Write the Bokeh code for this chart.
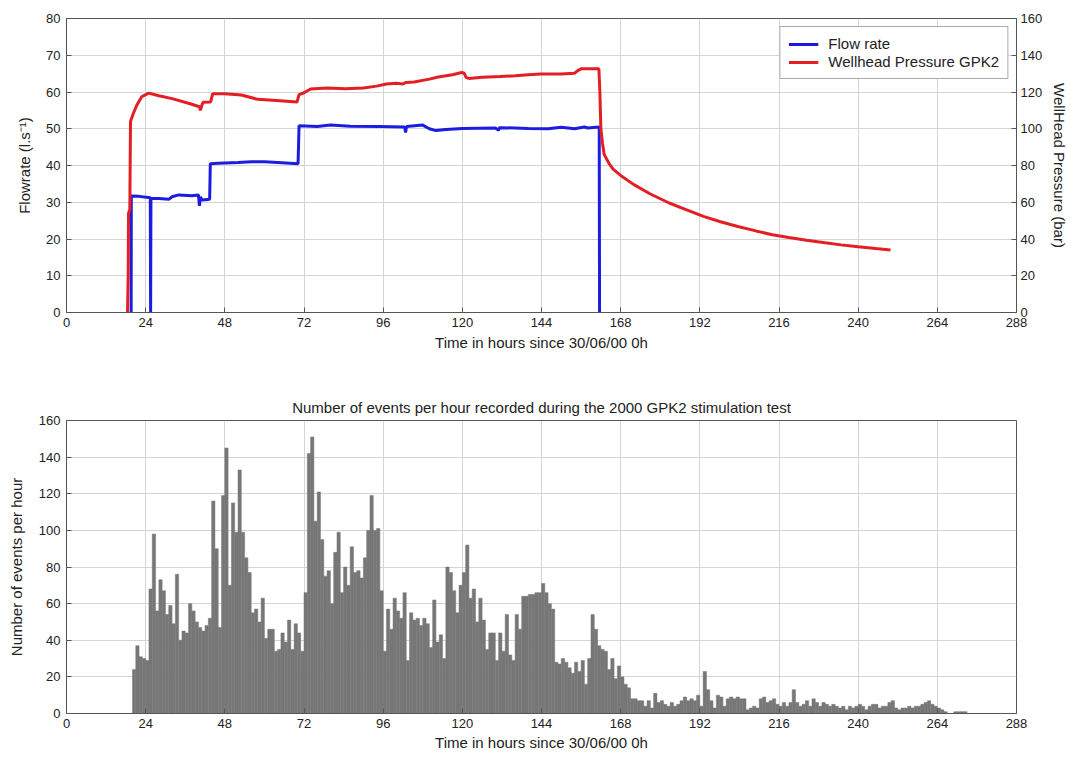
from bokeh.plotting import figure
from bokeh.models import Range1d, LinearAxis, FixedTicker
from bokeh.layouts import column
from bokeh.embed import file_html
from bokeh.resources import INLINE

# ---------------- data ----------------
flow_hours = [19.6, 19.65, 22, 25.4, 25.5, 25.6, 28, 31, 32, 34, 38, 40, 40.3, 40.6, 41,
              43.4, 43.6, 46, 52, 56, 60, 64, 70.2, 70.5, 76, 80, 86, 95, 102.5, 102.8,
              103.1, 108, 110, 112, 115, 120, 130, 131, 131.3, 140, 146, 150, 154, 157,
              158, 161.5, 161.6]
flow_rate = [0, 31.7, 31.6, 31.2, 0, 31.0, 31.0, 30.8, 31.5, 32.0, 31.8, 32.0, 29.0, 31.5, 30.6,
             30.8, 40.5, 40.6, 40.8, 41.0, 41.0, 40.8, 40.5, 50.8, 50.6, 51.0, 50.7, 50.6, 50.5, 49.0,
             50.6, 51.0, 50.0, 49.5, 49.8, 50.1, 50.2, 49.6, 50.3, 50.1, 50.0, 50.4, 50.0, 50.5,
             50.2, 50.5, 0]

press_hours = [18.5, 18.7, 18.8, 19.2, 19.4, 20.2, 21.3, 22.8, 24.9, 28, 32, 37.5, 40.3, 40.6,
               41, 41.4, 43.7, 44.3, 48, 53, 58, 63.6, 69.9, 70.5, 72, 74, 79, 84.5, 90, 94, 97,
               100, 102, 103, 105.4, 110, 112.7, 117, 119.8, 120.5, 121.2, 122, 126, 131.5, 136,
               140, 143.8, 150, 154, 155, 156, 161.4, 161.7, 162, 162.5, 163, 164.5, 165.7, 168,
               172, 177, 182.7, 188, 193.1, 198, 203.5, 209, 214, 219, 224.3, 230, 234.8, 240,
               245.3, 249.8]
pressure = [0, 20, 54, 56, 104, 108, 112.8, 117.4, 119.4, 118, 116.4, 113.6, 112, 110,
            112.6, 114.4, 114.6, 119, 119, 118.4, 116, 115.4, 114.6, 118.6, 119.6, 121.6, 122.2,
            121.8, 122.2, 123.2, 124.4, 124.8, 124.4, 125.2, 125.4, 127, 128.2, 129.4, 130.6,
            130.4, 127.8, 127.4, 128, 128.4, 128.8, 129.4, 129.8, 129.8, 130.2, 131.6, 132.6,
            132.6, 120, 100, 92, 86, 81, 78, 74.6, 69.6, 64.5, 59.6, 55.8, 52.3, 49.5, 46.8,
            44.4, 42.3, 40.8, 39.3, 37.9, 36.8, 35.8, 34.8, 34.0]

events_start_hour = 20
events_per_hour = [
    24, 37, 31, 30, 29, 68, 98, 56, 73, 67,          # 20-29
    54, 59, 49, 76, 40, 45, 44, 60, 56, 50,          # 30-39
    47, 45, 48, 52, 116, 90, 47, 119, 145, 70,       # 40-49
    115, 99, 133, 99, 85, 77, 55, 57, 50, 63,        # 50-59
    41, 46, 46, 34, 35, 44, 39, 51, 35, 49,          # 60-69
    44, 34, 66, 142, 151, 105, 121, 95, 75, 78,      # 70-79
    60, 88, 99, 66, 80, 70, 91, 77, 78, 74,          # 80-89
    85, 100, 119, 100, 101, 67, 34, 57, 46, 63,      # 90-99
    56, 52, 66, 29, 55, 51, 52, 48, 52, 49,          # 100-109
    36, 62, 39, 43, 30, 80, 77, 67, 55, 70,          # 110-119
    77, 92, 63, 68, 50, 63, 51, 35, 44, 44,          # 120-129
    29, 44, 34, 54, 32, 29, 54, 46, 64, 64,          # 130-139
    65, 65, 66, 66, 71, 66, 60, 57, 28, 27,          # 140-149
    30, 28, 25, 22, 28, 23, 29, 16, 30, 54,          # 150-159
    46, 37, 35, 34, 24, 30, 19, 26, 20, 16,          # 160-169
    14, 8, 8, 7, 7, 4, 7, 3, 11, 6,                  # 170-179
    7, 5, 4, 6, 4, 5, 7, 9, 7, 8,                    # 180-189
    7, 10, 4, 23, 13, 7, 3, 10, 9, 4,                # 190-199
    8, 9, 8, 9, 8, 8, 2, 3, 4, 3,                    # 200-209
    8, 9, 6, 7, 8, 5, 4, 6, 4, 6,                    # 210-219
    13, 6, 4, 5, 7, 4, 8, 6, 4, 6,                   # 220-229
    5, 4, 5, 4, 3, 4, 2, 4, 3, 4,                    # 230-239
    5, 4, 2, 4, 5, 5, 3, 4, 4, 6,                    # 240-249
    7, 3, 2, 3, 3, 4, 3, 4, 4, 5,                    # 250-259
    6, 7, 5, 4, 3, 2, 1, 0, 0, 1,                    # 260-269
    1, 1, 1,                                         # 270-272
]
event_hours = [events_start_hour + i for i in range(len(events_per_hour))]

x_ticks = list(range(0, 289, 24))
flow_ticks = list(range(0, 81, 10))
press_ticks = list(range(0, 161, 20))
event_ticks = list(range(0, 161, 20))

# ---------------- style ----------------
FONT = "Liberation Sans"
TXT = "#222222"
GRID = "#d4d4d4"
FRAME = "#555555"


def style_axis(ax, ticks, standoff=5, label_standoff=6, label_size="15px"):
    ax.ticker = FixedTicker(ticks=ticks)
    ax.major_label_text_font = FONT
    ax.major_label_text_font_size = "13px"
    ax.major_label_text_color = TXT
    ax.axis_label_text_font = FONT
    ax.axis_label_text_font_size = label_size
    ax.axis_label_text_font_style = "normal"
    ax.axis_label_text_color = TXT
    ax.major_tick_in = 5
    ax.major_tick_out = 0
    ax.minor_tick_line_color = None
    ax.axis_line_color = FRAME
    ax.major_tick_line_color = FRAME
    ax.major_label_standoff = standoff
    ax.axis_label_standoff = label_standoff


def style_fig(p):
    p.outline_line_color = FRAME
    p.outline_line_width = 1
    p.background_fill_color = "white"
    p.border_fill_color = "white"
    for g in p.grid:
        g.grid_line_color = GRID
        g.grid_line_width = 1


# ---------------- top figure ----------------
p1 = figure(width=1071, height=355, output_backend="svg", toolbar_location=None,
            x_range=Range1d(0, 288), y_range=Range1d(0, 80),
            min_border_left=66, min_border_right=55, min_border_top=18, min_border_bottom=43)
p1.extra_y_ranges = {"pressure": Range1d(0, 160)}
right_axis = LinearAxis(y_range_name="pressure", axis_label="WellHead Pressure (bar)")
p1.add_layout(right_axis, "right")

p1.xaxis.axis_label = "Time in hours since 30/06/00 0h"
p1.yaxis[0].axis_label = "Flowrate (l.s\u207b\u00b9)"
style_axis(p1.xaxis[0], x_ticks, 5, 4)
style_axis(p1.yaxis[0], flow_ticks, 6, 10)
style_axis(right_axis, press_ticks, 4, 6)
p1.xgrid.ticker = FixedTicker(ticks=x_ticks)
p1.ygrid.ticker = FixedTicker(ticks=flow_ticks)
style_fig(p1)

p1.line(flow_hours, flow_rate, line_color="#1c1ce0", line_width=3, legend_label="Flow rate")
p1.line(press_hours, pressure, y_range_name="pressure", line_color="#e31e24", line_width=3,
        legend_label="Wellhead Pressure GPK2")

lg = p1.legend[0]
lg.location = "top_right"
lg.margin = 8
lg.padding = 8
lg.spacing = 1
lg.glyph_width = 30
lg.glyph_height = 14
lg.label_height = 14
lg.label_standoff = 10
lg.label_text_font = FONT
lg.label_text_font_size = "15px"
lg.label_text_color = TXT
lg.border_line_color = FRAME
lg.border_line_width = 1
lg.background_fill_color = "white"
lg.background_fill_alpha = 1.0

# ---------------- bottom figure ----------------
p2 = figure(width=1071, height=403, output_backend="svg", toolbar_location=None,
            x_range=Range1d(0, 288), y_range=Range1d(0, 160),
            min_border_left=66, min_border_right=55, min_border_top=65, min_border_bottom=45,
            title="Number of events per hour recorded during the 2000 GPK2 stimulation test")
p2.title.align = "center"
p2.title.text_font = FONT
p2.title.text_font_size = "15px"
p2.title.text_font_style = "normal"
p2.title.text_color = TXT
p2.title.standoff = 9

p2.xaxis.axis_label = "Time in hours since 30/06/00 0h"
p2.yaxis.axis_label = "Number of events per hour"
style_axis(p2.xaxis[0], x_ticks, 5, 3)
style_axis(p2.yaxis[0], event_ticks, 6, 11)
p2.xgrid.ticker = FixedTicker(ticks=x_ticks)
p2.ygrid.ticker = FixedTicker(ticks=event_ticks)
style_fig(p2)

p2.quad(left=event_hours, right=[h + 1 for h in event_hours], bottom=0, top=events_per_hour,
        fill_color="#777777", line_color="#777777", line_width=0.5)

layout = column(p1, p2, spacing=0)
open("out.html", "w").write(file_html(layout, INLINE))
